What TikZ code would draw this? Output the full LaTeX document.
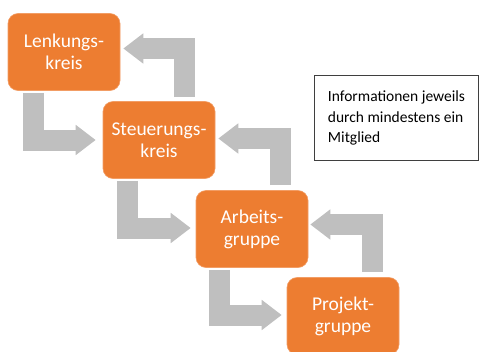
\documentclass[tikz,border=0pt]{standalone}
\usepackage{fontspec}
\setsansfont{Carlito}
\usepackage{tikz}
\usetikzlibrary{arrows.meta}

\definecolor{boxorange}{HTML}{ED7D31}
\definecolor{flowgray}{HTML}{BFBFBF}
\definecolor{framegray}{HTML}{3F3F3F}

\begin{document}
\begin{tikzpicture}[x=1pt, y=-1pt,
    gremium/.style={rectangle, rounded corners=10pt, fill=boxorange, draw=boxorange!75!white,
      line width=0.6pt, text=white, minimum width=112pt, minimum height=77pt, align=center,
      font=\sffamily\fontsize{19.5}{22}\selectfont},
    flow/.style={draw=flowgray, line width=21pt, -{Triangle[width=29pt,length=20pt]}},
    infobox/.style={rectangle, draw=framegray, line width=1pt, minimum width=164pt,
      minimum height=85pt, align=left, font=\sffamily\fontsize{15.5}{20.5}\selectfont}]
    \useasboundingbox (0,0) rectangle (479,351);
    % Gremien
    \node[gremium] (lenk) at (64,52) {Lenkungs-\\kreis};
    \node[gremium] (steu) at (159,140) {Steuerungs-\\kreis};
    \node[gremium] (arb) at (252,229) {Arbeits-\\gruppe};
    \node[gremium] (proj) at (343,316) {Projekt-\\gruppe};
    % Hinweis
    \node[infobox, anchor=north west] (info) at (314,75) {Informationen jeweils\\durch mindestens ein\\Mitglied};
    % nach unten
    \draw[flow] ([xshift=-31pt,yshift=-2pt]lenk.south) |- ([xshift=-7pt]steu.west);
    \draw[flow] ([xshift=-32pt,yshift=-2pt]steu.south) |- ([xshift=-5pt,yshift=1pt]arb.west);
    \draw[flow] ([xshift=-33pt,yshift=-2pt]arb.south) |- ([xshift=-5pt,yshift=1pt]proj.west);
    % nach oben
    \draw[flow] ([xshift=25pt,yshift=4pt]steu.north) |- ([xshift=3pt,yshift=3.5pt]lenk.east);
    \draw[flow] ([xshift=28pt,yshift=5pt]arb.north) |- ([xshift=3pt,yshift=1.5pt]steu.east);
    \draw[flow] ([xshift=29pt,yshift=5pt]proj.north) |- ([xshift=2pt,yshift=4.5pt]arb.east);
\end{tikzpicture}
\end{document}
